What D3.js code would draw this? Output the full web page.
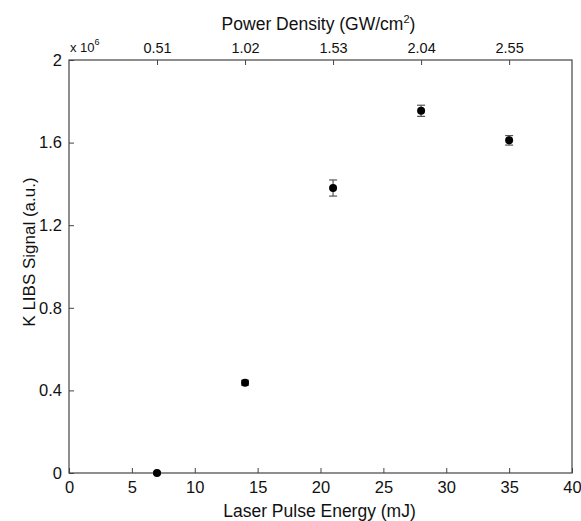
<!DOCTYPE html>
<html>
  <head>
    <meta charset="utf-8" />
    <script src="https://d3js.org/d3.v7.min.js"></script>
    <style>
      body { margin: 0; background: #fff; }
      text { font-family: "Liberation Sans", Arial, sans-serif; fill: #111; }
    </style>
  </head>
  <body>
    <div id="chart"></div>
    <script>
      // data (signal in units of 1e6)
      const energy = [7, 14, 21, 28, 35];
      const signal = [0.0, 0.437, 1.38, 1.754, 1.611];
      const errors = [0.006, 0.012, 0.039, 0.027, 0.023];
      const xTicks = [0, 5, 10, 15, 20, 25, 30, 35, 40];
      const yTicks = [0, 0.4, 0.8, 1.2, 1.6, 2];
      const topTicks = [0.51, 1.02, 1.53, 2.04, 2.55];

      const width = 581;
      const height = 521;
      const margin = { top: 60, right: 9, bottom: 48, left: 69 };
      const w = width - margin.left - margin.right;
      const h = height - margin.top - margin.bottom;

      const svg = d3.select("#chart").append("svg").attr("width", width).attr("height", height);
      const g = svg.append("g").attr("transform", "translate(" + margin.left + "," + margin.top + ")");

      const x = d3.scaleLinear().domain([0, 40]).range([0, w]);
      const y = d3.scaleLinear().domain([0, 2]).range([h, 0]);
      // power density is proportional to energy: 0.51 GW/cm2 at 7 mJ
      const xTop = d3.scaleLinear().domain([0, 40 * 0.51 / 7]).range([0, w]);

      const frame = "#444";

      const axBottom = g.append("g").attr("transform", "translate(0," + h + ")")
        .call(d3.axisBottom(x).tickValues(xTicks).tickSize(-5).tickPadding(8).tickFormat(d3.format("d")));
      const axLeft = g.append("g")
        .call(d3.axisLeft(y).tickValues(yTicks).tickSize(-5).tickPadding(7).tickFormat((d) => d === 0 || d === 2 ? d : d3.format(".1f")(d)));
      const axTop = g.append("g")
        .call(d3.axisTop(xTop).tickValues(topTicks).tickSize(-5).tickPadding(7).tickFormat(d3.format(".2f")));

      [axBottom, axLeft, axTop].forEach((a) => {
        a.select(".domain").remove();
        a.selectAll("line").attr("stroke", frame);
        a.selectAll("text").attr("fill", "#111");
      });
      axBottom.selectAll("text").style("font-size", "16.5px");
      axLeft.selectAll("text").style("font-size", "16.5px");
      axTop.selectAll("text").style("font-size", "14.5px");

      g.append("rect").attr("width", w).attr("height", h)
        .attr("fill", "none").attr("stroke", frame).attr("stroke-width", 1.2);

      // error bars
      const pts = energy.map((e, i) => ({ x: e, y: signal[i], err: errors[i] }));
      const eb = g.append("g").selectAll("g").data(pts).enter().append("g").attr("stroke", "#555").attr("stroke-width", 1.2);
      eb.append("line")
        .attr("x1", (d) => x(d.x)).attr("x2", (d) => x(d.x))
        .attr("y1", (d) => y(d.y - d.err)).attr("y2", (d) => y(d.y + d.err));
      eb.append("line")
        .attr("x1", (d) => x(d.x) - 4).attr("x2", (d) => x(d.x) + 4)
        .attr("y1", (d) => y(d.y + d.err)).attr("y2", (d) => y(d.y + d.err));
      eb.append("line")
        .attr("x1", (d) => x(d.x) - 4).attr("x2", (d) => x(d.x) + 4)
        .attr("y1", (d) => y(d.y - d.err)).attr("y2", (d) => y(d.y - d.err));

      g.append("g").selectAll("circle").data(pts).enter().append("circle")
        .attr("cx", (d) => x(d.x)).attr("cy", (d) => y(d.y)).attr("r", 4).attr("fill", "#000");

      // titles
      svg.append("text").attr("x", margin.left + w / 2 - 1).attr("y", 517).attr("text-anchor", "middle")
        .style("font-size", "17.5px").text("Laser Pulse Energy (mJ)");
      const tt = svg.append("text").attr("x", margin.left + w / 2 - 2).attr("y", 30).attr("text-anchor", "middle")
        .style("font-size", "17.5px");
      tt.append("tspan").text("Power Density (GW/cm");
      tt.append("tspan").attr("dy", -7).style("font-size", "11px").text("2");
      tt.append("tspan").attr("dy", 7).text(")");
      svg.append("text").attr("transform", "translate(35,252) rotate(-90)").attr("text-anchor", "middle")
        .style("font-size", "17px").text("K LIBS Signal (a.u.)");

      const mult = svg.append("text").attr("x", 70).attr("y", 52).style("font-size", "13px");
      mult.append("tspan").text("x 10");
      mult.append("tspan").attr("dy", -7).style("font-size", "9px").text("6");
    </script>
  </body>
</html>
